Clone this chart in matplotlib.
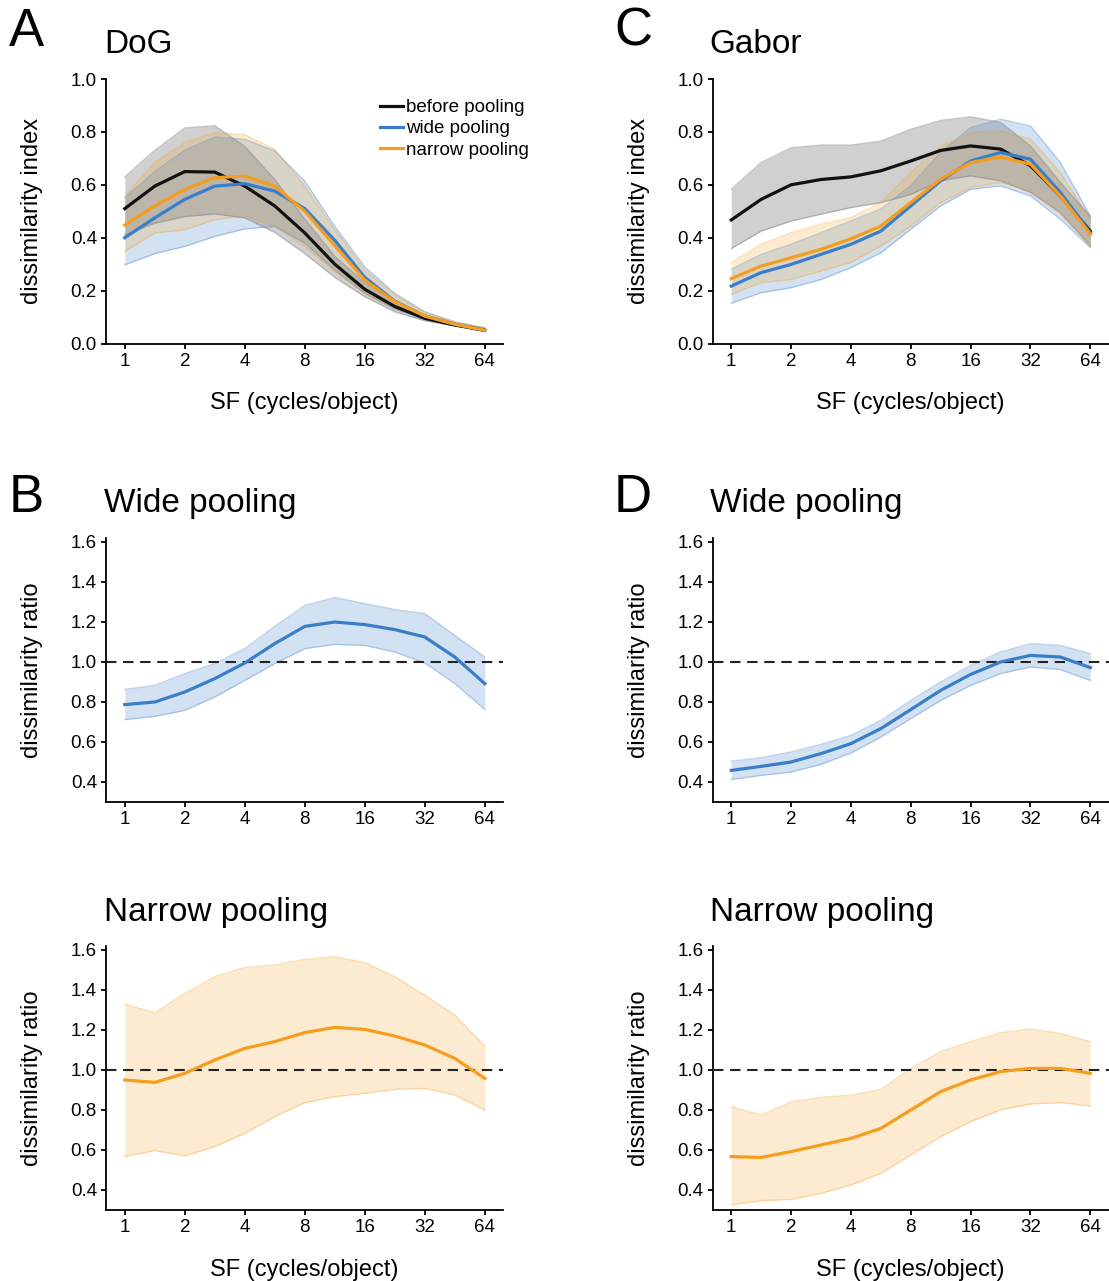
import matplotlib
matplotlib.use("Agg")
import matplotlib.pyplot as plt

plt.rcParams['font.family'] = ['Liberation Sans', 'DejaVu Sans']

# SF sample points (cycles/object), half-octave steps
sf = [1, 1.414, 2, 2.828, 4, 5.657, 8, 11.31, 16, 22.63, 32, 45.25, 64]
sf_ticks = [1, 2, 4, 8, 16, 32, 64]

# --- A: DoG, dissimilarity index ---
dog_before = [0.51, 0.595, 0.65, 0.648, 0.595, 0.52, 0.418, 0.30, 0.205, 0.14, 0.095, 0.07, 0.05]
dog_before_hi = [0.63, 0.73, 0.815, 0.823, 0.745, 0.62, 0.47, 0.33, 0.23, 0.158, 0.108, 0.078, 0.06]
dog_before_lo = [0.41, 0.455, 0.48, 0.49, 0.475, 0.42, 0.34, 0.25, 0.177, 0.12, 0.086, 0.066, 0.05]
dog_wide = [0.40, 0.475, 0.545, 0.595, 0.604, 0.576, 0.51, 0.39, 0.25, 0.16, 0.104, 0.073, 0.05]
dog_wide_hi = [0.55, 0.65, 0.73, 0.78, 0.772, 0.728, 0.614, 0.443, 0.29, 0.19, 0.12, 0.082, 0.057]
dog_wide_lo = [0.297, 0.34, 0.367, 0.405, 0.433, 0.443, 0.38, 0.278, 0.19, 0.13, 0.091, 0.067, 0.044]
dog_narrow = [0.448, 0.52, 0.582, 0.627, 0.633, 0.595, 0.50, 0.37, 0.24, 0.158, 0.104, 0.073, 0.05]
dog_narrow_hi = [0.557, 0.684, 0.76, 0.797, 0.79, 0.734, 0.595, 0.43, 0.278, 0.184, 0.12, 0.082, 0.057]
dog_narrow_lo = [0.348, 0.418, 0.43, 0.468, 0.483, 0.443, 0.367, 0.272, 0.19, 0.133, 0.095, 0.07, 0.048]

# --- C: Gabor, dissimilarity index ---
gab_before = [0.467, 0.545, 0.60, 0.62, 0.63, 0.653, 0.69, 0.73, 0.747, 0.735, 0.672, 0.558, 0.425]
gab_before_hi = [0.583, 0.684, 0.74, 0.75, 0.75, 0.765, 0.81, 0.843, 0.857, 0.836, 0.747, 0.609, 0.48]
gab_before_lo = [0.359, 0.425, 0.463, 0.489, 0.514, 0.533, 0.564, 0.615, 0.634, 0.615, 0.571, 0.495, 0.369]
gab_wide = [0.217, 0.268, 0.299, 0.337, 0.375, 0.425, 0.52, 0.615, 0.69, 0.722, 0.697, 0.571, 0.419]
gab_wide_hi = [0.28, 0.337, 0.375, 0.419, 0.463, 0.508, 0.596, 0.722, 0.816, 0.848, 0.823, 0.684, 0.482]
gab_wide_lo = [0.152, 0.192, 0.211, 0.242, 0.287, 0.343, 0.432, 0.52, 0.583, 0.596, 0.558, 0.47, 0.362]
gab_narrow = [0.245, 0.293, 0.324, 0.356, 0.396, 0.444, 0.533, 0.621, 0.684, 0.705, 0.678, 0.558, 0.413]
gab_narrow_hi = [0.306, 0.375, 0.419, 0.451, 0.476, 0.533, 0.646, 0.747, 0.798, 0.804, 0.773, 0.646, 0.47]
gab_narrow_lo = [0.186, 0.23, 0.242, 0.274, 0.306, 0.369, 0.444, 0.533, 0.59, 0.609, 0.577, 0.489, 0.369]

# --- B: DoG ratios ---
dog_ratio_wide = [0.787, 0.80, 0.85, 0.917, 0.995, 1.092, 1.178, 1.20, 1.187, 1.162, 1.125, 1.025, 0.892]
dog_ratio_wide_hi = [0.863, 0.883, 0.942, 0.992, 1.067, 1.178, 1.283, 1.322, 1.292, 1.262, 1.242, 1.133, 1.025]
dog_ratio_wide_lo = [0.712, 0.728, 0.758, 0.825, 0.908, 0.992, 1.067, 1.088, 1.083, 1.05, 0.995, 0.892, 0.762]
dog_ratio_narrow = [0.95, 0.938, 0.983, 1.05, 1.108, 1.142, 1.187, 1.213, 1.203, 1.17, 1.125, 1.058, 0.958]
dog_ratio_narrow_hi = [1.33, 1.287, 1.383, 1.467, 1.513, 1.525, 1.553, 1.567, 1.537, 1.467, 1.375, 1.275, 1.12]
dog_ratio_narrow_lo = [0.567, 0.597, 0.570, 0.617, 0.683, 0.767, 0.837, 0.867, 0.883, 0.903, 0.908, 0.875, 0.80]

# --- D: Gabor ratios ---
gab_ratio_wide = [0.458, 0.478, 0.50, 0.542, 0.592, 0.667, 0.762, 0.858, 0.938, 1.0, 1.033, 1.025, 0.972]
gab_ratio_wide_hi = [0.503, 0.522, 0.55, 0.588, 0.633, 0.708, 0.808, 0.90, 0.983, 1.05, 1.092, 1.083, 1.042]
gab_ratio_wide_lo = [0.413, 0.433, 0.45, 0.488, 0.545, 0.625, 0.717, 0.808, 0.883, 0.942, 0.975, 0.962, 0.908]
gab_ratio_narrow = [0.567, 0.563, 0.592, 0.625, 0.658, 0.708, 0.80, 0.892, 0.95, 0.992, 1.008, 1.008, 0.983]
gab_ratio_narrow_hi = [0.817, 0.775, 0.842, 0.863, 0.875, 0.903, 1.008, 1.092, 1.142, 1.187, 1.205, 1.183, 1.142]
gab_ratio_narrow_lo = [0.325, 0.347, 0.353, 0.383, 0.425, 0.483, 0.575, 0.667, 0.742, 0.80, 0.83, 0.837, 0.82]

BLACK = '#111111'
BLUE = '#3a7dc9'
ORANGE = '#f59d1c'
GREY = '#8a8a8a'

W, H = 1109, 1281
fig = plt.figure(figsize=(W / 100, H / 100), dpi=100)


def add_ax(left, top, right, bottom):
    # pixel box -> figure fraction
    return fig.add_axes([left / W, 1 - bottom / H, (right - left) / W, (bottom - top) / H])


def style_ax(ax, ylim, yticks, ylabel, xlabel=True):
    ax.set_xscale('log', base=2)
    ax.set_xlim(0.805, 79)
    ax.set_xticks(sf_ticks)
    ax.set_xticklabels([str(t) for t in sf_ticks])
    ax.minorticks_off()
    ax.set_ylim(*ylim)
    ax.set_yticks(yticks)
    ax.set_yticklabels(['%.1f' % t for t in yticks])
    for s in ['top', 'right']:
        ax.spines[s].set_visible(False)
    for s in ['left', 'bottom']:
        ax.spines[s].set_linewidth(1.3)
    ax.tick_params(labelsize=13.5, length=3.5, width=1.3, pad=3)
    ax.set_ylabel(ylabel, fontsize=17)
    # right edge of the rotated label about 62 px left of the spine
    bb = ax.get_position()
    ax.yaxis.set_label_coords(-63 / (bb.width * W), 0.5)
    if xlabel:
        ax.set_xlabel('SF (cycles/object)', fontsize=17)
        ax.xaxis.set_label_coords(0.5, -49 / (bb.height * H))


def band(ax, lo, hi, color, alpha):
    ax.fill_between(sf, lo, hi, color=color, alpha=alpha, linewidth=0)
    ax.plot(sf, lo, color=color, lw=1.0, alpha=alpha + 0.1)
    ax.plot(sf, hi, color=color, lw=1.0, alpha=alpha + 0.1)


# panel A
axA = add_ax(106, 79, 503, 343.5)
band(axA, dog_before_lo, dog_before_hi, GREY, 0.4)
band(axA, dog_wide_lo, dog_wide_hi, BLUE, 0.22)
band(axA, dog_narrow_lo, dog_narrow_hi, ORANGE, 0.2)
axA.plot(sf, dog_before, color=BLACK, lw=2.3, label='before pooling')
axA.plot(sf, dog_wide, color=BLUE, lw=2.3, label='wide pooling')
axA.plot(sf, dog_narrow, color=ORANGE, lw=2.3, label='narrow pooling')
style_ax(axA, (0, 1.0), [0, 0.2, 0.4, 0.6, 0.8, 1.0], 'dissimilarity index')
axA.legend(loc='upper left', bbox_to_anchor=(380 / W, 1 - 99 / H), bbox_transform=fig.transFigure,
           frameon=False, fontsize=13.5, handlelength=1.25, handletextpad=0.12,
           labelspacing=0.22, borderpad=0, borderaxespad=0)

# panel C
axC = add_ax(712.5, 79, 1108.5, 343.5)
band(axC, gab_before_lo, gab_before_hi, GREY, 0.4)
band(axC, gab_wide_lo, gab_wide_hi, BLUE, 0.22)
band(axC, gab_narrow_lo, gab_narrow_hi, ORANGE, 0.2)
axC.plot(sf, gab_before, color=BLACK, lw=2.3)
axC.plot(sf, gab_wide, color=BLUE, lw=2.3)
axC.plot(sf, gab_narrow, color=ORANGE, lw=2.3)
style_ax(axC, (0, 1.0), [0, 0.2, 0.4, 0.6, 0.8, 1.0], 'dissimilarity index')

ratio_ticks = [0.4, 0.6, 0.8, 1.0, 1.2, 1.4, 1.6]

# ratio panels: (box, mean, lo, hi, color, has xlabel)
ratio_panels = [
    ((106, 538, 503, 802), dog_ratio_wide, dog_ratio_wide_lo, dog_ratio_wide_hi, BLUE, False),
    ((106, 946, 503, 1210), dog_ratio_narrow, dog_ratio_narrow_lo, dog_ratio_narrow_hi, ORANGE, True),
    ((712.5, 538, 1108.5, 802), gab_ratio_wide, gab_ratio_wide_lo, gab_ratio_wide_hi, BLUE, False),
    ((712.5, 946, 1108.5, 1210), gab_ratio_narrow, gab_ratio_narrow_lo, gab_ratio_narrow_hi, ORANGE, True),
]
for box, mean, lo, hi, col, has_xl in ratio_panels:
    ax = add_ax(*box)
    band(ax, lo, hi, col, 0.22 if col == BLUE else 0.2)
    ax.axhline(1.0, color='#222222', lw=1.5, dashes=(5, 3.2), zorder=3)
    ax.plot(sf, mean, color=col, lw=2.3, zorder=4)
    style_ax(ax, (0.30, 1.62), ratio_ticks, 'dissimilarity ratio', xlabel=has_xl)

# panel letters and titles (pixel positions, baseline)
def ftext(x, y, s, size):
    fig.text(x / W, 1 - y / H, s, fontsize=size, ha='left', va='baseline')

ftext(9, 46, 'A', 38)
ftext(614, 46, 'C', 38)
ftext(9, 512, 'B', 38)
ftext(614, 512, 'D', 38)
ftext(104, 53, 'DoG', 24)
ftext(709, 53, 'Gabor', 24)
ftext(104, 512, 'Wide pooling', 24)
ftext(710, 512, 'Wide pooling', 24)
ftext(104, 921, 'Narrow pooling', 24)
ftext(710, 921, 'Narrow pooling', 24)

fig.savefig('out.png', dpi=100)
